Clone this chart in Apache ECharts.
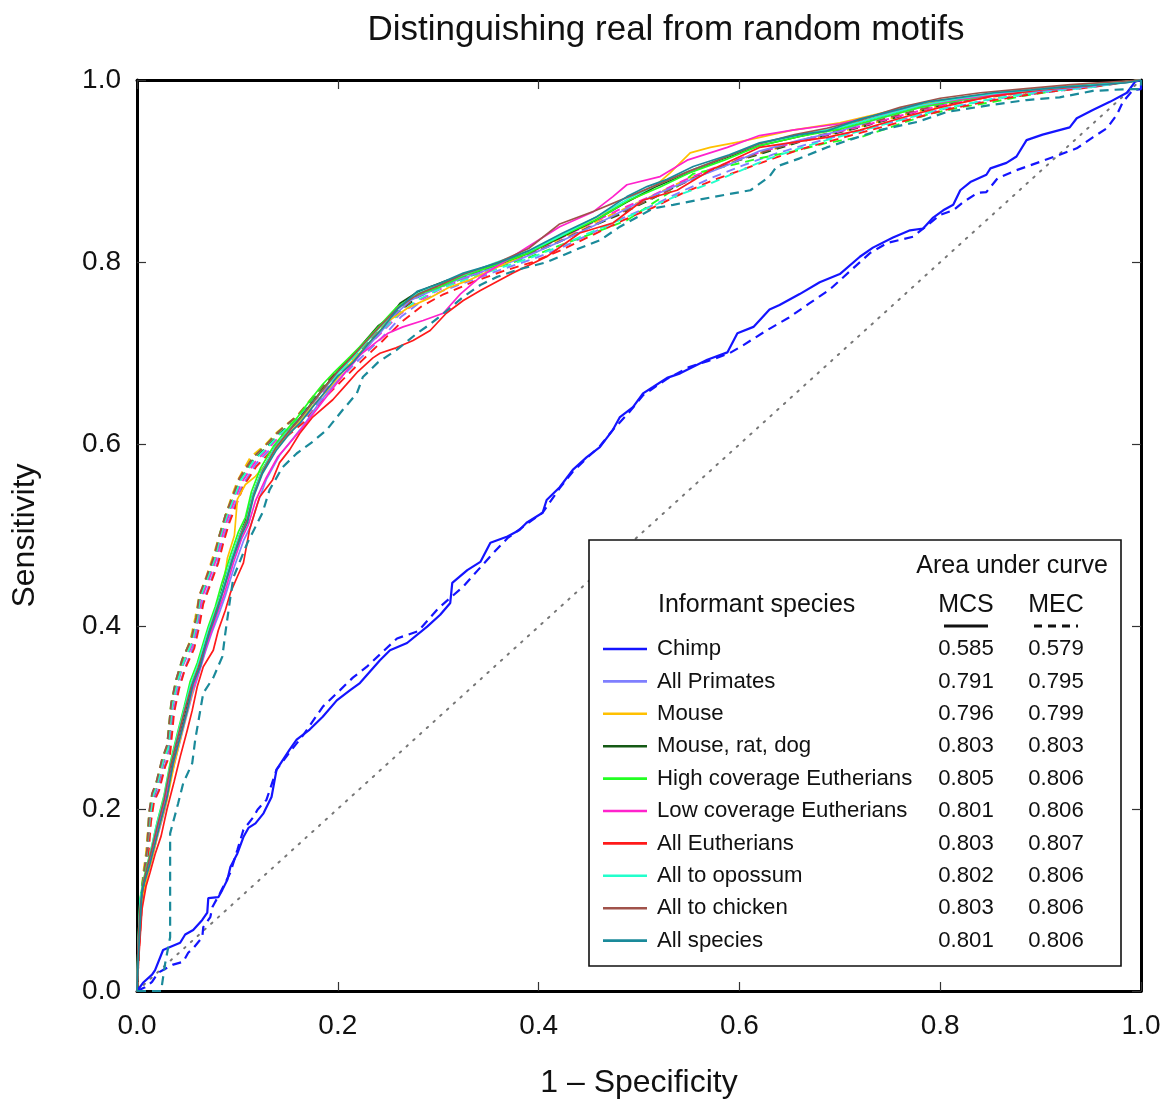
<!DOCTYPE html>
<html><head><meta charset="utf-8">
<script src="https://cdn.jsdelivr.net/npm/echarts@6/dist/echarts.min.js"></script>
<style>html,body{margin:0;padding:0;background:#fff}#c{width:1164px;height:1099px}</style>
</head><body><div id="c"></div>
<script>
// ---------- data ----------
const chartTitle = 'Distinguishing real from random motifs';
const xName = '1 – Specificity';
const yName = 'Sensitivity';
const speciesNames = ['Chimp','All Primates','Mouse','Mouse, rat, dog','High coverage Eutherians','Low coverage Eutherians','All Eutherians','All to opossum','All to chicken','All species'];
const aucMCS = ['0.585','0.791','0.796','0.803','0.805','0.801','0.803','0.802','0.803','0.801'];
const aucMEC = ['0.579','0.795','0.799','0.803','0.806','0.806','0.807','0.806','0.806','0.806'];
const diagonal = [[0,0],[1,1]];

const chimpMCS = [[0,0],[0.001,0.001],[0.006,0.009],[0.015,0.018],[0.018,0.023],[0.026,0.045],[0.03,0.047],[0.043,0.053],[0.048,0.062],[0.056,0.067],[0.065,0.078],[0.07,0.086],[0.071,0.102],[0.081,0.103],[0.085,0.111],[0.09,0.122],[0.093,0.136],[0.1,0.151],[0.106,0.169],[0.111,0.179],[0.118,0.184],[0.126,0.195],[0.134,0.213],[0.139,0.243],[0.152,0.265],[0.159,0.276],[0.172,0.287],[0.185,0.301],[0.199,0.319],[0.212,0.33],[0.222,0.338],[0.242,0.363],[0.252,0.374],[0.269,0.382],[0.289,0.4],[0.302,0.413],[0.312,0.426],[0.314,0.448],[0.329,0.462],[0.342,0.471],[0.352,0.492],[0.369,0.499],[0.381,0.506],[0.388,0.514],[0.404,0.525],[0.408,0.539],[0.421,0.553],[0.434,0.572],[0.448,0.586],[0.461,0.597],[0.474,0.616],[0.481,0.63],[0.494,0.641],[0.504,0.656],[0.514,0.663],[0.528,0.673],[0.541,0.678],[0.568,0.693],[0.588,0.701],[0.598,0.722],[0.614,0.729],[0.63,0.748],[0.64,0.753],[0.66,0.765],[0.68,0.778],[0.70,0.787],[0.72,0.806],[0.733,0.816],[0.753,0.827],[0.77,0.835],[0.783,0.837],[0.793,0.849],[0.803,0.857],[0.813,0.863],[0.82,0.879],[0.83,0.888],[0.846,0.896],[0.85,0.903],[0.866,0.909],[0.876,0.916],[0.886,0.934],[0.902,0.94],[0.929,0.948],[0.936,0.958],[0.952,0.967],[0.969,0.976],[0.986,0.986],[0.994,0.998],[1,1]];
const chimpMEC = [[0,0],[0.008,0.004],[0.015,0.01],[0.021,0.02],[0.026,0.023],[0.036,0.029],[0.046,0.032],[0.051,0.042],[0.056,0.047],[0.065,0.059],[0.066,0.07],[0.073,0.081],[0.075,0.092],[0.083,0.108],[0.093,0.13],[0.1,0.155],[0.106,0.177],[0.116,0.191],[0.12,0.199],[0.129,0.21],[0.139,0.243],[0.152,0.262],[0.165,0.28],[0.185,0.312],[0.202,0.33],[0.215,0.344],[0.229,0.356],[0.259,0.387],[0.28,0.395],[0.3,0.42],[0.325,0.444],[0.355,0.481],[0.369,0.497],[0.385,0.51],[0.404,0.525],[0.421,0.552],[0.434,0.57],[0.448,0.585],[0.461,0.598],[0.474,0.616],[0.49,0.635],[0.504,0.654],[0.528,0.672],[0.55,0.685],[0.57,0.692],[0.59,0.7],[0.604,0.709],[0.627,0.725],[0.649,0.739],[0.67,0.755],[0.69,0.77],[0.71,0.79],[0.73,0.81],[0.747,0.821],[0.773,0.828],[0.8,0.852],[0.813,0.857],[0.823,0.866],[0.837,0.876],[0.846,0.877],[0.857,0.892],[0.876,0.901],[0.899,0.91],[0.919,0.918],[0.936,0.925],[0.952,0.937],[0.966,0.947],[0.976,0.962],[0.982,0.976],[0.992,0.989],[1,0.99],[1,1]];

const primatesMCS = [[0,0],[0.001,0.04],[0.004,0.09],[0.007,0.115],[0.011,0.13],[0.016,0.15],[0.021,0.172],[0.028,0.2],[0.034,0.235],[0.041,0.266],[0.048,0.296],[0.055,0.325],[0.062,0.35],[0.068,0.372],[0.074,0.392],[0.081,0.412],[0.088,0.434],[0.097,0.466],[0.106,0.494],[0.113,0.51],[0.12,0.535],[0.129,0.562],[0.142,0.588],[0.155,0.606],[0.168,0.624],[0.181,0.645],[0.195,0.664],[0.21,0.682],[0.226,0.703],[0.242,0.722],[0.255,0.74],[0.272,0.758],[0.292,0.768],[0.318,0.78],[0.35,0.792],[0.385,0.805],[0.42,0.822],[0.455,0.84],[0.49,0.86],[0.52,0.876],[0.55,0.89],[0.585,0.905],[0.62,0.922],[0.66,0.934],[0.7,0.944],[0.74,0.958],[0.78,0.97],[0.82,0.978],[0.86,0.984],[0.9,0.988],[0.95,0.993],[1,1]];
const primatesMEC = [[0,0],[0.002,0.05],[0.004,0.095],[0.007,0.122],[0.01,0.145],[0.013,0.185],[0.016,0.208],[0.021,0.22],[0.027,0.245],[0.032,0.262],[0.036,0.305],[0.041,0.332],[0.048,0.355],[0.056,0.378],[0.061,0.402],[0.065,0.426],[0.072,0.446],[0.08,0.47],[0.085,0.494],[0.091,0.515],[0.105,0.555],[0.118,0.578],[0.132,0.594],[0.145,0.608],[0.165,0.626],[0.183,0.65],[0.203,0.673],[0.223,0.695],[0.243,0.716],[0.263,0.74],[0.283,0.757],[0.303,0.768],[0.333,0.78],[0.363,0.792],[0.393,0.803],[0.423,0.816],[0.453,0.832],[0.483,0.848],[0.513,0.862],[0.543,0.878],[0.573,0.893],[0.603,0.906],[0.633,0.918],[0.663,0.928],[0.693,0.937],[0.723,0.945],[0.763,0.957],[0.803,0.968],[0.853,0.979],[0.9,0.986],[0.95,0.992],[1,1]];

const mouseMCS = [[0,0],[0.002,0.06],[0.005,0.1],[0.01,0.125],[0.016,0.15],[0.022,0.178],[0.03,0.21],[0.037,0.248],[0.045,0.285],[0.052,0.315],[0.058,0.34],[0.065,0.365],[0.072,0.39],[0.08,0.42],[0.086,0.445],[0.09,0.475],[0.097,0.5],[0.1,0.54],[0.108,0.556],[0.118,0.565],[0.128,0.578],[0.14,0.598],[0.155,0.616],[0.17,0.636],[0.19,0.66],[0.21,0.686],[0.23,0.71],[0.25,0.735],[0.27,0.75],[0.29,0.76],[0.31,0.772],[0.33,0.78],[0.36,0.795],[0.39,0.81],[0.42,0.828],[0.45,0.845],[0.48,0.862],[0.51,0.878],[0.531,0.898],[0.551,0.92],[0.571,0.926],[0.6,0.932],[0.653,0.945],[0.7,0.953],[0.75,0.966],[0.8,0.978],[0.85,0.985],[0.9,0.99],[0.95,0.994],[1,1]];
const mouseMEC = [[0,0],[0.002,0.05],[0.004,0.1],[0.006,0.128],[0.009,0.152],[0.012,0.192],[0.015,0.214],[0.019,0.226],[0.025,0.252],[0.03,0.268],[0.034,0.314],[0.039,0.34],[0.045,0.362],[0.053,0.385],[0.058,0.41],[0.062,0.434],[0.069,0.455],[0.076,0.478],[0.082,0.5],[0.088,0.522],[0.095,0.545],[0.1,0.56],[0.113,0.586],[0.128,0.6],[0.14,0.614],[0.16,0.632],[0.178,0.656],[0.198,0.68],[0.218,0.702],[0.238,0.724],[0.258,0.746],[0.278,0.763],[0.298,0.773],[0.328,0.786],[0.358,0.798],[0.388,0.81],[0.418,0.824],[0.448,0.84],[0.478,0.855],[0.508,0.87],[0.538,0.886],[0.568,0.9],[0.598,0.912],[0.628,0.922],[0.658,0.932],[0.688,0.94],[0.718,0.948],[0.758,0.96],[0.798,0.971],[0.848,0.981],[0.9,0.988],[0.95,0.993],[1,1]];

const mrdMCS = [[0,0],[0.001,0.05],[0.004,0.1],[0.008,0.125],[0.012,0.14],[0.017,0.16],[0.022,0.182],[0.029,0.212],[0.035,0.248],[0.042,0.278],[0.049,0.308],[0.055,0.336],[0.062,0.356],[0.067,0.378],[0.072,0.398],[0.079,0.42],[0.085,0.442],[0.094,0.474],[0.102,0.5],[0.108,0.516],[0.115,0.544],[0.124,0.57],[0.137,0.596],[0.15,0.614],[0.16,0.626],[0.173,0.644],[0.186,0.662],[0.198,0.678],[0.212,0.694],[0.226,0.712],[0.24,0.73],[0.25,0.738],[0.262,0.755],[0.279,0.767],[0.292,0.773],[0.309,0.78],[0.33,0.787],[0.36,0.798],[0.39,0.81],[0.42,0.826],[0.455,0.845],[0.488,0.866],[0.515,0.882],[0.545,0.896],[0.58,0.912],[0.62,0.928],[0.66,0.938],[0.7,0.948],[0.74,0.96],[0.78,0.972],[0.82,0.98],[0.86,0.986],[0.9,0.99],[0.95,0.995],[1,1]];
const mrdMEC = [[0,0],[0.002,0.05],[0.004,0.1],[0.007,0.125],[0.01,0.15],[0.013,0.19],[0.016,0.212],[0.02,0.224],[0.026,0.25],[0.031,0.265],[0.035,0.312],[0.04,0.338],[0.046,0.36],[0.055,0.382],[0.06,0.407],[0.063,0.431],[0.07,0.451],[0.078,0.475],[0.083,0.498],[0.089,0.52],[0.103,0.561],[0.116,0.583],[0.13,0.598],[0.142,0.612],[0.162,0.63],[0.18,0.655],[0.2,0.678],[0.22,0.7],[0.24,0.722],[0.26,0.745],[0.28,0.762],[0.3,0.772],[0.33,0.785],[0.36,0.797],[0.39,0.808],[0.42,0.822],[0.45,0.838],[0.48,0.852],[0.51,0.868],[0.54,0.885],[0.57,0.9],[0.6,0.912],[0.63,0.922],[0.66,0.932],[0.69,0.94],[0.72,0.948],[0.76,0.96],[0.8,0.972],[0.85,0.982],[0.9,0.988],[0.95,0.993],[1,1]];

const highMCS = [[0,0],[0.001,0.05],[0.003,0.1],[0.006,0.12],[0.01,0.138],[0.015,0.16],[0.02,0.185],[0.027,0.215],[0.033,0.25],[0.04,0.282],[0.047,0.312],[0.053,0.34],[0.06,0.36],[0.066,0.382],[0.071,0.4],[0.078,0.422],[0.084,0.446],[0.093,0.478],[0.101,0.504],[0.108,0.52],[0.114,0.548],[0.123,0.574],[0.136,0.598],[0.149,0.616],[0.16,0.63],[0.172,0.648],[0.185,0.666],[0.197,0.68],[0.212,0.696],[0.228,0.714],[0.243,0.732],[0.258,0.75],[0.278,0.764],[0.3,0.772],[0.325,0.785],[0.355,0.796],[0.39,0.81],[0.425,0.83],[0.46,0.848],[0.49,0.868],[0.52,0.882],[0.55,0.898],[0.585,0.912],[0.62,0.928],[0.66,0.938],[0.7,0.946],[0.74,0.958],[0.78,0.97],[0.82,0.978],[0.86,0.985],[0.9,0.99],[0.95,0.994],[1,1]];
const highMEC = [[0,0],[0.002,0.06],[0.004,0.11],[0.007,0.13],[0.01,0.155],[0.012,0.195],[0.015,0.216],[0.019,0.228],[0.025,0.254],[0.03,0.27],[0.034,0.316],[0.039,0.342],[0.045,0.364],[0.054,0.386],[0.059,0.41],[0.062,0.432],[0.069,0.452],[0.077,0.476],[0.082,0.5],[0.088,0.522],[0.102,0.562],[0.115,0.585],[0.129,0.6],[0.141,0.614],[0.161,0.632],[0.179,0.656],[0.199,0.68],[0.219,0.702],[0.239,0.724],[0.259,0.746],[0.279,0.763],[0.3,0.772],[0.33,0.784],[0.36,0.795],[0.39,0.805],[0.42,0.818],[0.45,0.83],[0.488,0.846],[0.51,0.862],[0.531,0.877],[0.554,0.897],[0.59,0.906],[0.62,0.914],[0.655,0.922],[0.687,0.931],[0.72,0.937],[0.75,0.948],[0.787,0.962],[0.82,0.97],[0.853,0.976],[0.885,0.983],[0.919,0.989],[0.96,0.994],[1,1]];

const lowMCS = [[0,0],[0.001,0.04],[0.003,0.09],[0.006,0.115],[0.01,0.13],[0.015,0.152],[0.02,0.175],[0.027,0.205],[0.034,0.24],[0.041,0.272],[0.048,0.3],[0.055,0.33],[0.062,0.352],[0.068,0.374],[0.074,0.394],[0.08,0.414],[0.087,0.436],[0.096,0.47],[0.104,0.496],[0.111,0.512],[0.118,0.538],[0.128,0.562],[0.14,0.586],[0.154,0.604],[0.166,0.62],[0.18,0.64],[0.194,0.66],[0.208,0.68],[0.222,0.698],[0.238,0.712],[0.25,0.722],[0.265,0.729],[0.285,0.736],[0.305,0.744],[0.322,0.765],[0.342,0.784],[0.365,0.8],[0.391,0.818],[0.421,0.839],[0.454,0.855],[0.474,0.872],[0.488,0.885],[0.521,0.894],[0.548,0.912],[0.588,0.926],[0.62,0.939],[0.653,0.945],[0.7,0.952],[0.74,0.962],[0.78,0.972],[0.82,0.979],[0.86,0.985],[0.9,0.99],[0.95,0.994],[1,1]];
const lowMEC = [[0,0],[0.002,0.05],[0.004,0.1],[0.007,0.126],[0.01,0.15],[0.013,0.19],[0.016,0.212],[0.02,0.224],[0.026,0.25],[0.031,0.264],[0.035,0.31],[0.04,0.336],[0.046,0.358],[0.055,0.38],[0.06,0.404],[0.064,0.43],[0.071,0.45],[0.079,0.474],[0.084,0.497],[0.09,0.518],[0.104,0.558],[0.117,0.58],[0.131,0.596],[0.143,0.61],[0.163,0.628],[0.181,0.653],[0.201,0.676],[0.221,0.698],[0.241,0.72],[0.261,0.742],[0.281,0.758],[0.301,0.77],[0.331,0.784],[0.361,0.797],[0.391,0.81],[0.421,0.826],[0.451,0.842],[0.481,0.858],[0.511,0.872],[0.541,0.888],[0.571,0.902],[0.601,0.914],[0.631,0.924],[0.661,0.933],[0.691,0.941],[0.721,0.949],[0.761,0.961],[0.801,0.972],[0.851,0.982],[0.9,0.988],[0.95,0.993],[1,1]];

const eutherMCS = [[0,0],[0.002,0.04],[0.005,0.09],[0.009,0.115],[0.013,0.13],[0.018,0.15],[0.024,0.17],[0.03,0.2],[0.037,0.23],[0.043,0.257],[0.05,0.286],[0.055,0.308],[0.06,0.334],[0.066,0.356],[0.076,0.374],[0.081,0.396],[0.088,0.418],[0.093,0.437],[0.1,0.455],[0.106,0.47],[0.112,0.506],[0.122,0.542],[0.135,0.561],[0.142,0.58],[0.152,0.594],[0.162,0.612],[0.175,0.63],[0.195,0.649],[0.208,0.665],[0.22,0.68],[0.235,0.695],[0.242,0.7],[0.258,0.706],[0.275,0.714],[0.292,0.725],[0.308,0.744],[0.325,0.758],[0.342,0.769],[0.374,0.788],[0.408,0.806],[0.441,0.832],[0.474,0.843],[0.504,0.868],[0.538,0.879],[0.571,0.901],[0.62,0.926],[0.687,0.937],[0.72,0.945],[0.76,0.958],[0.8,0.97],[0.85,0.982],[0.9,0.989],[0.95,0.994],[1,1]];
const eutherMEC = [[0,0],[0.002,0.045],[0.005,0.095],[0.008,0.12],[0.011,0.145],[0.014,0.186],[0.017,0.208],[0.022,0.22],[0.028,0.246],[0.033,0.26],[0.037,0.306],[0.042,0.332],[0.048,0.354],[0.057,0.376],[0.062,0.4],[0.066,0.425],[0.073,0.446],[0.081,0.47],[0.086,0.492],[0.092,0.514],[0.106,0.554],[0.119,0.576],[0.133,0.592],[0.146,0.606],[0.166,0.624],[0.184,0.648],[0.204,0.67],[0.224,0.692],[0.244,0.713],[0.264,0.735],[0.284,0.752],[0.304,0.764],[0.334,0.778],[0.364,0.79],[0.394,0.8],[0.424,0.814],[0.454,0.83],[0.484,0.846],[0.514,0.86],[0.544,0.876],[0.574,0.89],[0.604,0.902],[0.634,0.914],[0.664,0.925],[0.694,0.934],[0.724,0.943],[0.764,0.955],[0.804,0.967],[0.854,0.978],[0.9,0.986],[0.95,0.992],[1,1]];

const opossumMCS = [[0,0],[0.001,0.05],[0.003,0.1],[0.006,0.118],[0.01,0.135],[0.014,0.155],[0.019,0.18],[0.026,0.208],[0.032,0.242],[0.039,0.275],[0.046,0.305],[0.053,0.335],[0.06,0.356],[0.066,0.378],[0.071,0.396],[0.078,0.418],[0.085,0.44],[0.094,0.475],[0.102,0.5],[0.109,0.516],[0.115,0.544],[0.124,0.57],[0.137,0.596],[0.15,0.614],[0.161,0.626],[0.174,0.644],[0.187,0.662],[0.2,0.678],[0.214,0.694],[0.23,0.714],[0.245,0.732],[0.26,0.75],[0.28,0.766],[0.3,0.775],[0.325,0.786],[0.358,0.8],[0.39,0.812],[0.424,0.83],[0.458,0.85],[0.49,0.87],[0.52,0.886],[0.55,0.9],[0.585,0.915],[0.62,0.93],[0.66,0.94],[0.7,0.948],[0.74,0.96],[0.78,0.972],[0.82,0.98],[0.86,0.986],[0.9,0.99],[0.95,0.995],[1,1]];
const opossumMEC = [[0,0],[0.002,0.055],[0.004,0.105],[0.007,0.128],[0.01,0.152],[0.013,0.192],[0.016,0.214],[0.02,0.226],[0.026,0.252],[0.031,0.266],[0.035,0.313],[0.04,0.338],[0.046,0.36],[0.055,0.383],[0.06,0.408],[0.063,0.432],[0.07,0.452],[0.078,0.476],[0.083,0.499],[0.089,0.52],[0.103,0.56],[0.116,0.582],[0.13,0.597],[0.142,0.611],[0.162,0.63],[0.18,0.654],[0.2,0.677],[0.22,0.699],[0.24,0.72],[0.26,0.742],[0.28,0.759],[0.3,0.77],[0.33,0.782],[0.36,0.793],[0.39,0.804],[0.42,0.817],[0.45,0.832],[0.48,0.846],[0.51,0.86],[0.54,0.874],[0.57,0.886],[0.6,0.9],[0.63,0.914],[0.66,0.925],[0.69,0.935],[0.72,0.944],[0.76,0.956],[0.8,0.968],[0.85,0.979],[0.9,0.987],[0.95,0.992],[1,1]];

const chickenMCS = [[0,0],[0.001,0.05],[0.003,0.09],[0.006,0.118],[0.01,0.135],[0.015,0.157],[0.02,0.18],[0.027,0.21],[0.033,0.245],[0.04,0.276],[0.047,0.306],[0.054,0.334],[0.061,0.355],[0.067,0.376],[0.072,0.395],[0.079,0.418],[0.086,0.44],[0.095,0.474],[0.103,0.5],[0.11,0.518],[0.116,0.544],[0.125,0.57],[0.138,0.596],[0.151,0.614],[0.162,0.628],[0.175,0.646],[0.188,0.664],[0.2,0.68],[0.214,0.696],[0.229,0.714],[0.244,0.732],[0.26,0.75],[0.28,0.765],[0.3,0.774],[0.326,0.787],[0.36,0.8],[0.39,0.815],[0.421,0.842],[0.455,0.856],[0.49,0.872],[0.52,0.886],[0.55,0.9],[0.585,0.915],[0.62,0.93],[0.655,0.94],[0.687,0.947],[0.72,0.956],[0.76,0.97],[0.8,0.98],[0.84,0.986],[0.88,0.99],[0.93,0.995],[1,1]];
const chickenMEC = [[0,0],[0.002,0.055],[0.004,0.105],[0.007,0.13],[0.01,0.155],[0.012,0.196],[0.015,0.217],[0.019,0.228],[0.025,0.255],[0.03,0.27],[0.034,0.316],[0.039,0.342],[0.045,0.364],[0.054,0.386],[0.059,0.41],[0.062,0.434],[0.069,0.454],[0.077,0.478],[0.082,0.5],[0.088,0.522],[0.102,0.563],[0.115,0.585],[0.129,0.6],[0.141,0.614],[0.161,0.633],[0.179,0.657],[0.199,0.68],[0.219,0.702],[0.239,0.723],[0.259,0.745],[0.279,0.762],[0.299,0.772],[0.329,0.785],[0.359,0.797],[0.389,0.808],[0.419,0.822],[0.449,0.838],[0.479,0.853],[0.509,0.868],[0.539,0.884],[0.569,0.899],[0.599,0.912],[0.629,0.923],[0.659,0.933],[0.689,0.942],[0.719,0.95],[0.759,0.962],[0.799,0.973],[0.849,0.982],[0.9,0.989],[0.95,0.994],[1,1]];

const allMCS = [[0,0],[0.001,0.03],[0.003,0.07],[0.005,0.11],[0.009,0.125],[0.013,0.14],[0.018,0.162],[0.023,0.184],[0.03,0.213],[0.036,0.25],[0.043,0.279],[0.05,0.308],[0.056,0.338],[0.063,0.356],[0.068,0.378],[0.073,0.396],[0.08,0.418],[0.086,0.44],[0.096,0.476],[0.104,0.5],[0.11,0.514],[0.116,0.542],[0.125,0.568],[0.139,0.594],[0.152,0.612],[0.162,0.623],[0.175,0.641],[0.189,0.66],[0.2,0.675],[0.215,0.69],[0.23,0.71],[0.245,0.728],[0.259,0.748],[0.279,0.768],[0.3,0.776],[0.325,0.788],[0.359,0.799],[0.391,0.813],[0.424,0.832],[0.458,0.85],[0.488,0.872],[0.508,0.883],[0.528,0.891],[0.554,0.905],[0.59,0.918],[0.62,0.931],[0.66,0.94],[0.687,0.944],[0.72,0.957],[0.76,0.968],[0.787,0.976],[0.82,0.981],[0.853,0.986],[0.89,0.989],[0.919,0.992],[0.95,0.994],[0.986,0.997],[1,1]];
const allMEC = [[0,0],[0.024,0],[0.028,0.03],[0.033,0.059],[0.033,0.173],[0.041,0.206],[0.046,0.228],[0.055,0.25],[0.058,0.276],[0.066,0.327],[0.076,0.344],[0.085,0.367],[0.088,0.393],[0.093,0.432],[0.096,0.454],[0.11,0.492],[0.125,0.525],[0.132,0.55],[0.145,0.575],[0.159,0.59],[0.175,0.603],[0.189,0.616],[0.205,0.638],[0.219,0.656],[0.225,0.674],[0.24,0.69],[0.259,0.704],[0.279,0.722],[0.292,0.732],[0.31,0.748],[0.325,0.762],[0.342,0.775],[0.359,0.784],[0.38,0.792],[0.408,0.8],[0.421,0.806],[0.44,0.815],[0.461,0.824],[0.481,0.839],[0.514,0.859],[0.534,0.863],[0.571,0.871],[0.611,0.879],[0.63,0.894],[0.637,0.905],[0.66,0.914],[0.687,0.926],[0.72,0.938],[0.74,0.945],[0.777,0.954],[0.807,0.965],[0.853,0.973],[0.886,0.978],[0.919,0.981],[0.952,0.988],[0.986,0.99],[1,0.99],[1,1]];

const curvesMCS = [chimpMCS, primatesMCS, mouseMCS, mrdMCS, highMCS, lowMCS, eutherMCS, opossumMCS, chickenMCS, allMCS];
const curvesMEC = [chimpMEC, primatesMEC, mouseMEC, mrdMEC, highMEC, lowMEC, eutherMEC, opossumMEC, chickenMEC, allMEC];

// ---------- style ----------
const COLORS = ['#1414ff','#7f7fff','#ffc000','#155a15','#22ff22','#ff22cc','#ff1a1a','#22ffcc','#a0524a','#1a8a9a'];
const FONT = '"Liberation Sans", Arial, sans-serif';
const DASH = [9, 6];

const series = [];
series.push({type:'line', name:'diag', data: diagonal, showSymbol:false, symbol:'none', silent:true,
  lineStyle:{color:'#777', width:2, type:[1.6,7.5], cap:'round'}, z:1});
for (let i = 0; i < speciesNames.length; i++) {
  if (i === 9) continue;
  series.push({type:'line', name: speciesNames[i] + ' MEC', data: curvesMEC[i], showSymbol:false, symbol:'none',
    lineStyle:{color: COLORS[i], width: i===0 ? 2.2 : 1.9, type: DASH}, z:2});
}
for (let i = 0; i < speciesNames.length; i++) {
  series.push({type:'line', name: speciesNames[i] + ' MCS', data: curvesMCS[i], showSymbol:false, symbol:'none',
    lineStyle:{color: COLORS[i], width: i===0 ? 2.2 : 1.7, type:'solid'}, z:3});
}
series.push({type:'line', name: speciesNames[9] + ' MEC', data: curvesMEC[9], showSymbol:false, symbol:'none',
  lineStyle:{color: COLORS[9], width: 2.2, type: DASH}, z:4});

// ---------- legend table (graphic) ----------
const L = {x:589, y:540, w:532, h:426, row0:649, rowH:32.4, sx1:603, sx2:647, tx:657, mcsX:966, mecX:1056};
const HF = '25px ' + FONT, RF = '22.2px ' + FONT;
const g = [];
g.push({type:'rect', shape:{x:L.x, y:L.y, width:L.w, height:L.h}, style:{fill:'#fff', stroke:'#111', lineWidth:1.6}, z:100});
g.push({type:'text', x:1108, y:566, style:{text:'Area under curve', font:HF, fill:'#111', align:'right', verticalAlign:'middle'}, z:101});
g.push({type:'text', x:658, y:605, style:{text:'Informant species', font:HF, fill:'#111', align:'left', verticalAlign:'middle'}, z:101});
g.push({type:'text', x:L.mcsX, y:605, style:{text:'MCS', font:HF, fill:'#111', align:'center', verticalAlign:'middle'}, z:101});
g.push({type:'text', x:L.mecX, y:605, style:{text:'MEC', font:HF, fill:'#111', align:'center', verticalAlign:'middle'}, z:101});
g.push({type:'line', shape:{x1:944, y1:626, x2:988, y2:626}, style:{stroke:'#111', lineWidth:3}, z:101});
g.push({type:'line', shape:{x1:1034, y1:626, x2:1078, y2:626}, style:{stroke:'#111', lineWidth:3, lineDash:[8,6]}, z:101});
for (let i = 0; i < speciesNames.length; i++) {
  const y = L.row0 + i * L.rowH;
  g.push({type:'line', shape:{x1:L.sx1, y1:y, x2:L.sx2, y2:y}, style:{stroke:COLORS[i], lineWidth:2.6}, z:101});
  g.push({type:'text', x:L.tx, y:y, style:{text:speciesNames[i], font:RF, fill:'#111', align:'left', verticalAlign:'middle'}, z:101});
  g.push({type:'text', x:L.mcsX, y:y, style:{text:aucMCS[i], font:RF, fill:'#111', align:'center', verticalAlign:'middle'}, z:101});
  g.push({type:'text', x:L.mecX, y:y, style:{text:aucMEC[i], font:RF, fill:'#111', align:'center', verticalAlign:'middle'}, z:101});
}
g.push({type:'text', x:666, y:30, style:{text:chartTitle, font:'35px '+FONT, fill:'#111', align:'center', verticalAlign:'middle'}, z:101});

const axBase = (extra) => Object.assign({
  type:'value', min:0, max:1, interval:0.2,
  axisLine:{show:true, onZero:false, lineStyle:{color:'#000', width:3}},
  axisTick:{show:true, inside:true, length:9, lineStyle:{color:'#333', width:1.2}},
  splitLine:{show:false},
}, extra);

const chart = echarts.init(document.getElementById('c'), null, {renderer:'canvas'});
chart.setOption({
  animation:false,
  backgroundColor:'#fff',
  grid:{left:137, right:23, top:80, bottom:108, containLabel:false, outerBoundsMode:'none'},
  xAxis:[
    axBase({position:'bottom', name:xName, nameLocation:'middle', nameGap:76,
      nameTextStyle:{fontSize:32, fontFamily:FONT, color:'#111'},
      axisLabel:{fontSize:28, fontFamily:FONT, color:'#111', margin:21, formatter:v=>v.toFixed(1)}}),
    axBase({position:'top', axisLabel:{show:false}})
  ],
  yAxis:[
    axBase({position:'left', name:yName, nameLocation:'middle', nameGap:96, nameRotate:90,
      nameTextStyle:{fontSize:32, fontFamily:FONT, color:'#111'},
      axisLabel:{fontSize:28, fontFamily:FONT, color:'#111', margin:16, formatter:v=>v.toFixed(1)}}),
    axBase({position:'right', axisLabel:{show:false}})
  ],
  series: series,
  graphic: g
});
</script></body></html>
